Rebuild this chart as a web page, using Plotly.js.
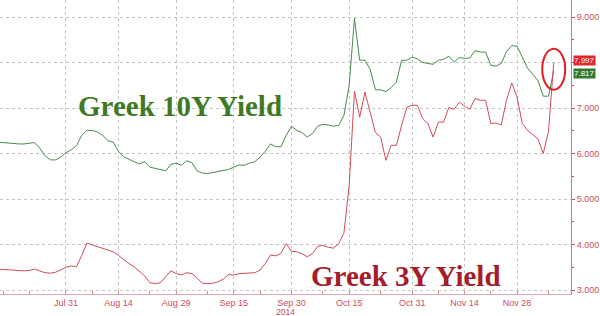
<!DOCTYPE html>
<html>
<head>
<meta charset="utf-8">
<script src="https://cdn.plot.ly/plotly-3.0.1.min.js"></script>
<style>html,body{margin:0;padding:0;background:#fff;}#chart{width:600px;height:316px;}</style>
</head>
<body>
<div id="chart"></div>
<script>
const dates = [
'2014-07-14','2014-07-15','2014-07-16','2014-07-17','2014-07-18','2014-07-21','2014-07-22','2014-07-23','2014-07-24','2014-07-25','2014-07-28','2014-07-29','2014-07-30','2014-07-31',
'2014-08-01','2014-08-04','2014-08-05','2014-08-06','2014-08-07','2014-08-08','2014-08-11','2014-08-12','2014-08-13','2014-08-14','2014-08-15','2014-08-18','2014-08-19','2014-08-20','2014-08-21','2014-08-22','2014-08-25','2014-08-26','2014-08-27','2014-08-28','2014-08-29',
'2014-09-01','2014-09-02','2014-09-03','2014-09-04','2014-09-05','2014-09-08','2014-09-09','2014-09-10','2014-09-11','2014-09-12','2014-09-15','2014-09-16','2014-09-17','2014-09-18','2014-09-19','2014-09-22','2014-09-23','2014-09-24','2014-09-25','2014-09-26','2014-09-29','2014-09-30',
'2014-10-01','2014-10-02','2014-10-03','2014-10-06','2014-10-07','2014-10-08','2014-10-09','2014-10-10','2014-10-13','2014-10-14','2014-10-15','2014-10-16','2014-10-17','2014-10-20','2014-10-21','2014-10-22','2014-10-23','2014-10-24','2014-10-27','2014-10-28','2014-10-29','2014-10-30','2014-10-31',
'2014-11-03','2014-11-04','2014-11-05','2014-11-06','2014-11-07','2014-11-10','2014-11-11','2014-11-12','2014-11-13','2014-11-14','2014-11-17','2014-11-18','2014-11-19','2014-11-20','2014-11-21','2014-11-24','2014-11-25','2014-11-26','2014-11-27','2014-11-28',
'2014-12-01','2014-12-02','2014-12-03','2014-12-04','2014-12-05','2014-12-08','2014-12-09'
];
const greek10Y = [
6.25,6.24,6.22,6.21,6.21,6.21,6.23,6.24,6.12,5.95,5.86,5.86,5.92,6.02,
6.08,6.17,6.40,6.51,6.51,6.47,6.40,6.28,6.25,6.05,5.93,5.87,5.82,5.77,5.82,5.70,5.67,5.64,5.62,5.76,5.79,
5.74,5.84,5.80,5.62,5.57,5.56,5.58,5.60,5.62,5.65,5.70,5.75,5.74,5.79,5.82,5.92,6.05,6.21,6.15,6.15,6.40,6.60,
6.51,6.46,6.36,6.44,6.60,6.64,6.63,6.60,6.62,6.84,7.50,8.97,8.05,8.05,7.85,7.40,7.40,7.36,7.45,7.57,8.05,8.05,8.12,
8.08,8.00,7.98,7.96,8.05,8.07,8.14,8.01,8.11,8.09,8.10,8.26,8.23,8.23,7.94,7.92,7.98,8.24,8.37,8.36,
8.12,7.88,7.74,7.60,7.26,7.26,7.817
];
const greek3Y = [
3.46,3.45,3.44,3.44,3.43,3.42,3.43,3.46,3.42,3.38,3.37,3.39,3.44,3.50,
3.53,3.51,3.76,4.03,3.99,3.95,3.91,3.87,3.84,3.76,3.66,3.58,3.51,3.40,3.31,3.16,3.14,3.16,3.28,3.42,3.36,
3.33,3.38,3.36,3.26,3.15,3.14,3.15,3.18,3.24,3.34,3.33,3.36,3.37,3.37,3.38,3.44,3.58,3.77,3.75,3.81,4.02,3.85,
3.84,3.80,3.73,3.80,3.96,3.98,3.94,3.92,4.02,4.25,5.30,7.37,6.80,7.35,6.90,6.46,6.36,5.85,6.18,6.18,6.62,7.02,7.06,
7.06,6.77,6.66,6.36,6.69,6.69,7.01,6.97,7.13,7.04,6.97,7.21,7.17,7.17,6.66,6.67,6.63,7.18,7.55,7.24,
6.66,6.51,6.42,6.32,6.00,6.48,7.997
];
const xTickVals = ['2014-07-31','2014-08-14','2014-08-29','2014-09-15','2014-09-30','2014-10-15','2014-10-31','2014-11-14','2014-11-28'];
const xTickText = ['Jul 31','Aug 14','Aug 29','Sep 15','Sep 30','Oct 15','Oct 31','Nov 14','Nov 28'];
const yearDate = '2014-09-30';
const yearLabel = '2014';
const xMinorTicks = ['2014-07-15','2014-07-22','2014-08-07','2014-08-22','2014-09-08','2014-09-22','2014-10-08','2014-10-23','2014-11-07','2014-11-21','2014-12-08'];
const yTickVals = [3,4,5,6,7,8,9];
// the 8.000 label is hidden behind the last-value tags in the reference
const yTickText = ['3.000','4.000','5.000','6.000','7.000','','9.000'];
const yMinorTicks = [3.5,4.5,5.5,6.5,7.5,8.5];
const label10Y = 'Greek 10Y Yield';
const label3Y = 'Greek 3Y Yield';

const GREEN_LINE = '#4a8a4c';
const RED_LINE = '#d24c58';
const AXIS_RED = '#cf4a5a';
const GRID = '#c4c4c4';

const last = dates.length - 1;

const traces = [
  {x: dates, y: greek10Y, type: 'scatter', mode: 'lines', line: {color: GREEN_LINE, width: 1}, hoverinfo: 'none'},
  {x: dates, y: greek3Y, type: 'scatter', mode: 'lines', line: {color: RED_LINE, width: 1}, hoverinfo: 'none'}
];

const tickFont = {family: 'Liberation Sans, Arial, sans-serif', size: 9, color: AXIS_RED};

const layout = {
  width: 600, height: 316,
  margin: {l: 0, r: 29, t: 0, b: 22, pad: 0},
  paper_bgcolor: '#ffffff', plot_bgcolor: '#ffffff',
  showlegend: false,
  xaxis: {
    type: 'date',
    range: ['2014-07-14 10:00', '2014-12-12 07:00'],
    rangebreaks: [{bounds: ['sat', 'mon']}],
    tickmode: 'array', tickvals: xTickVals, ticktext: xTickText,
    ticks: 'inside', ticklen: 3, tickcolor: '#d98a92', tickwidth: 1,
    showgrid: true, gridcolor: GRID, griddash: 'dot', gridwidth: 1,
    showline: true, linecolor: '#e3a7ae', linewidth: 1,
    zeroline: false,
    tickfont: tickFont,
    minor: {tickmode: 'array', tickvals: xMinorTicks, ticks: 'inside', ticklen: 3, tickcolor: '#d98a92', showgrid: false}
  },
  yaxis: {
    side: 'right',
    range: [2.912, 9.374],
    tickmode: 'array', tickvals: yTickVals, ticktext: yTickText,
    ticks: 'outside', ticklen: 3, tickcolor: AXIS_RED, tickwidth: 1,
    showgrid: true, gridcolor: GRID, griddash: 'dot', gridwidth: 1,
    showline: true, linecolor: '#d9707c', linewidth: 1,
    zeroline: false,
    tickfont: tickFont,
    minor: {tickmode: 'array', tickvals: yMinorTicks, ticks: 'outside', ticklen: 2, tickcolor: AXIS_RED, showgrid: false}
  },
  annotations: [
    {xref: 'paper', yref: 'paper', x: 0.315, y: 0.64, xanchor: 'center', yanchor: 'middle', showarrow: false,
     text: label10Y, font: {family: 'Liberation Serif, Times New Roman, serif', size: 29, color: '#3e7a22', weight: 'bold'}},
    {xref: 'paper', yref: 'paper', x: 0.711, y: 0.062, xanchor: 'center', yanchor: 'middle', showarrow: false,
     text: label3Y, font: {family: 'Liberation Serif, Times New Roman, serif', size: 29, color: '#a51d2b', weight: 'bold'}},
    {xref: 'x', yref: 'paper', x: yearDate, y: 0, xanchor: 'center', yanchor: 'top', xshift: -6, yshift: -11, showarrow: false,
     text: yearLabel, font: {family: 'Liberation Sans, Arial, sans-serif', size: 8.5, color: AXIS_RED}},
    {xref: 'paper', yref: 'y', x: 1, y: greek10Y[last], xanchor: 'left', yanchor: 'middle', xshift: 2, yshift: -3, showarrow: false,
     text: greek10Y[last].toFixed(3), bgcolor: '#2f7a2f', borderpad: 0,
     font: {family: 'Liberation Sans, Arial, sans-serif', size: 8, color: '#ffffff'}},
    {xref: 'paper', yref: 'y', x: 1, y: greek3Y[last], xanchor: 'left', yanchor: 'middle', xshift: 2, yshift: 2, showarrow: false,
     text: greek3Y[last].toFixed(3), bgcolor: '#e2262c', borderpad: 0,
     font: {family: 'Liberation Sans, Arial, sans-serif', size: 8, color: '#ffffff'}}
  ],
  shapes: [
    {type: 'circle', xref: 'x', yref: 'y', xsizemode: 'pixel', ysizemode: 'pixel',
     xanchor: dates[last], yanchor: greek10Y[last], x0: -11.5, x1: 11.5, y0: -19, y1: 22,
     line: {color: '#e31b23', width: 2}}
  ]
};

Plotly.newPlot('chart', traces, layout, {staticPlot: true, displayModeBar: false});
</script>
</body>
</html>
